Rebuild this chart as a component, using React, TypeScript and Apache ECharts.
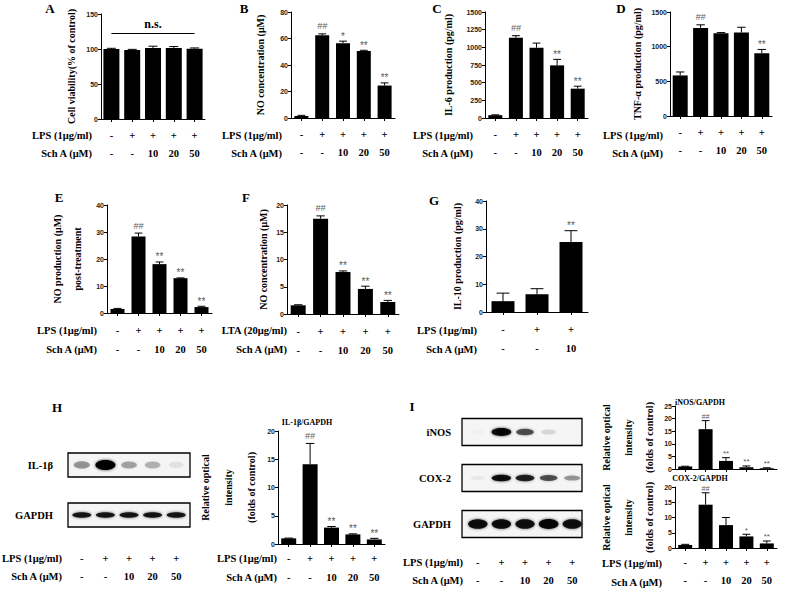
import React, { useEffect, useRef } from 'react';
import * as echarts from 'echarts';

// ---------- shared tick rows ----------
const lpsRow = ['-', '+', '+', '+', '+'];
const schRow = ['-', '-', '10', '20', '50'];
const lpsRowG = ['-', '+', '+'];
const schRowG = ['-', '-', '10'];
const rowLps = 'LPS (1μg/ml)';
const rowSch = 'Sch A (μM)';
const rowLta = 'LTA (20μg/ml)';

// ---------- A ----------
const aTitle = 'Cell viability(% of control)';
const aValues = [100, 98.5, 101.5, 101.5, 100.5];
const aErrors = [1, 1, 2.5, 2, 1];
const aMarks = ['', '', '', '', ''];
const aNsLevel = 123;
// ---------- B ----------
const bTitle = 'NO concentration (μM)';
const bValues = [1.5, 62.5, 56.5, 50.5, 24.5];
const bErrors = [0.5, 1, 1.5, 0.6, 2];
const bMarks = ['', '##', '*', '**', '**'];
// ---------- C ----------
const cTitle = 'IL-6 production (pg/ml)';
const cValues = [40, 1135, 995, 745, 415];
const cErrors = [5, 30, 65, 85, 35];
const cMarks = ['', '##', '', '**', '**'];
// ---------- D ----------
const dTitle = 'TNF-α production (pg/ml)';
const dValues = [585, 1270, 1195, 1205, 905];
const dErrors = [50, 45, 8, 75, 55];
const dMarks = ['', '##', '', '', '**'];
// ---------- E ----------
const eTitle = 'NO production (μM)\npost-treatment';
const eValues = [1.5, 28.3, 18.1, 12.9, 2.2];
const eErrors = [0.2, 1.3, 0.8, 0.1, 0.3];
const eMarks = ['', '##', '**', '**', '**'];
// ---------- F ----------
const fTitle = 'NO concentration (μM)';
const fValues = [1.6, 17.5, 7.7, 4.6, 2.2];
const fErrors = [0.1, 0.5, 0.2, 0.5, 0.3];
const fMarks = ['', '##', '**', '**', '**'];
// ---------- G ----------
const gTitle = 'IL-10 production (pg/ml)';
const gValues = [3.9, 6.4, 25.2];
const gErrors = [2.9, 2.0, 4.1];
const gMarks = ['', '', '**'];
// ---------- H ----------
const riTitle = 'Relative optical\nintensity\n(folds of control)';
const hChartTitle = 'IL-1β/GAPDH';
const hValues = [1.0, 14.1, 2.9, 1.7, 0.8];
const hErrors = [0.05, 3.7, 0.2, 0.1, 0.2];
const hMarks = ['', '##', '**', '**', '**'];
const hBlotRows = ['IL-1β', 'GAPDH'];
const hIl1b = [0.35, 1.0, 0.3, 0.25, 0.08];
const hGapdh = [0.85, 0.85, 0.85, 0.85, 0.85];
// ---------- I ----------
const iTopTitle = 'iNOS/GAPDH';
const iTopValues = [1.0, 15.8, 3.2, 0.7, 0.3];
const iTopErrors = [0.1, 3.4, 1.3, 0.5, 0.2];
const iTopMarks = ['', '##', '**', '**', '**'];
const iBotTitle = 'COX-2/GAPDH';
const iBotValues = [1.0, 14.2, 7.5, 3.8, 1.5];
const iBotErrors = [0.2, 3.9, 2.5, 0.7, 0.8];
const iBotMarks = ['', '##', '', '*', '**'];
const iBlotRows = ['iNOS', 'COX-2', 'GAPDH'];
const iInos = [0.02, 0.95, 0.6, 0.12, 0.0];
const iCox2 = [0.05, 0.9, 0.8, 0.6, 0.35];
const iGapdh = [0.9, 0.9, 0.88, 0.95, 0.88];

const serif = "'Liberation Serif','Times New Roman',serif";
const sans = "'Liberation Sans',Arial,sans-serif";
const markColor = '#5a5a5a';

type Panel = {
  values: number[]; errors: number[]; marks: string[];
  yMax: number; yInterval: number; yName: string;
  left: number; top: number; width: number; height: number;
  nameGap: number; nameLineHeight?: number; barWidth: number;
  lps?: string[]; sch?: string[]; labelMargin?: number; labelLineHeight?: number;
  markSize?: number; ns?: number;
};

function addBarPanel(opt: any, p: Panel) {
  const gi = opt.grid.length;
  const xi = opt.xAxis.length;
  const yi = opt.yAxis.length;
  opt.grid.push({ left: p.left, top: p.top, width: p.width, height: p.height });
  opt.xAxis.push({
    type: 'category', gridIndex: gi, data: p.values.map((_, i) => String(i)), boundaryGap: true,
    axisLine: { show: true, lineStyle: { color: '#000', width: 1 } },
    axisTick: { show: true, alignWithLabel: true, length: 3, lineStyle: { color: '#000' } },
    axisLabel: p.lps
      ? {
          show: true, interval: 0, margin: p.labelMargin, lineHeight: p.labelLineHeight,
          fontFamily: serif, fontWeight: 'bold', fontSize: 10.5, color: '#000',
          formatter: (_v: string, i: number) => `${p.lps![i]}\n${p.sch![i]}`,
        }
      : { show: false },
    splitLine: { show: false },
  });
  opt.yAxis.push({
    type: 'value', gridIndex: gi, min: 0, max: p.yMax, interval: p.yInterval,
    name: p.yName, nameLocation: 'middle', nameGap: p.nameGap,
    nameTextStyle: { fontFamily: serif, fontWeight: 'bold', fontSize: 10, color: '#000', lineHeight: p.nameLineHeight || 12 },
    axisLine: { show: true, lineStyle: { color: '#000', width: 1 } },
    axisTick: { show: true, length: 3, lineStyle: { color: '#000' } },
    axisLabel: { fontFamily: sans, fontWeight: 'bold', fontSize: 7, color: '#222', margin: 3, formatter: (v: number) => String(v) },
    splitLine: { show: false },
  });
  const bar: any = {
    type: 'bar', xAxisIndex: xi, yAxisIndex: yi, data: p.values, barWidth: p.barWidth,
    itemStyle: { color: '#000' }, silent: true, z: 2,
  };
  if (p.ns !== undefined) {
    bar.markLine = {
      silent: true, symbol: 'none', animation: false,
      lineStyle: { color: '#000', width: 1, type: 'solid' },
      label: { show: true, position: 'insideMiddleTop', formatter: 'n.s.', fontFamily: serif, fontWeight: 'bold', fontSize: 12, color: '#000', distance: 3 },
      data: [[{ coord: [0, p.ns] }, { coord: [p.values.length - 1, p.ns] }]],
    };
  }
  opt.series.push(bar);
  const ms = p.markSize || 10;
  opt.series.push({
    type: 'custom', xAxisIndex: xi, yAxisIndex: yi, z: 3, silent: true,
    itemStyle: { color: markColor },
    data: p.values.map((v, i) => [i, v, p.errors[i]]),
    renderItem: (params: any, api: any) => {
      const i = params.dataIndex;
      const x = api.value(0), v = api.value(1), e = api.value(2);
      const base = api.coord([x, v]);
      const top = api.coord([x, v + e]);
      const cw = p.barWidth * 0.28;
      const children: any[] = [];
      if (e > 0) {
        children.push({ type: 'line', shape: { x1: base[0], y1: base[1], x2: top[0], y2: top[1] }, style: { stroke: '#000', fill: null, lineWidth: 1 } });
        children.push({ type: 'line', shape: { x1: top[0] - cw, y1: top[1], x2: top[0] + cw, y2: top[1] }, style: { stroke: '#000', fill: null, lineWidth: 1 } });
      }
      const m = p.marks[i];
      if (m) {
        const hash = m.indexOf('#') >= 0;
        children.push({
          type: 'text', x: top[0], y: top[1] - (hash ? (ms < 10 ? 1 : 3) : 0),
          style: {
            text: m, fill: markColor, fontSize: hash ? ms * 0.9 : ms, fontFamily: sans,
            fontStyle: hash ? 'italic' : 'normal', align: 'center', verticalAlign: 'bottom',
          },
        });
      }
      return { type: 'group', children };
    },
  });
}

type Blot = {
  rows: string[]; bands: number[][]; lps: string[]; sch: string[];
  left: number; top: number; width: number; height: number;
  boxH: number; padL: number; padR: number; bandRy: number[]; labelMargin: number; yLabelMargin: number;
};

function addBlot(opt: any, b: Blot) {
  const gi = opt.grid.length;
  const xi = opt.xAxis.length;
  const yi = opt.yAxis.length;
  opt.grid.push({ left: b.left, top: b.top, width: b.width, height: b.height });
  opt.xAxis.push({
    type: 'category', gridIndex: gi, data: b.lps.map((_, i) => String(i)), boundaryGap: true,
    axisLine: { show: false }, axisTick: { show: false }, splitLine: { show: false },
    axisLabel: {
      show: true, interval: 0, margin: b.labelMargin, lineHeight: 18,
      fontFamily: serif, fontWeight: 'bold', fontSize: 10.5, color: '#000',
      formatter: (_v: string, i: number) => `${b.lps[i]}\n${b.sch[i]}`,
    },
  });
  opt.yAxis.push({
    type: 'category', gridIndex: gi, data: b.rows, inverse: true,
    axisLine: { show: false }, axisTick: { show: false }, splitLine: { show: false },
    axisLabel: { fontFamily: serif, fontWeight: 'bold', fontSize: 10.5, color: '#000', margin: b.yLabelMargin },
  });
  // frames
  opt.series.push({
    type: 'custom', xAxisIndex: xi, yAxisIndex: yi, z: 1, silent: true,
    itemStyle: { color: '#f5f5f5' },
    data: b.rows.map((_, r) => [0, r]),
    renderItem: (params: any, api: any) => {
      const cs = params.coordSys;
      const cy = api.coord([0, api.value(1)])[1];
      return {
        type: 'rect',
        shape: { x: cs.x - b.padL, y: cy - b.boxH / 2, width: cs.width + b.padL + b.padR, height: b.boxH },
        style: { fill: '#f5f5f5', stroke: '#000', lineWidth: 1.3 },
      };
    },
  });
  // bands
  const data: number[][] = [];
  b.bands.forEach((row, r) => row.forEach((v, lane) => data.push([lane, r, v])));
  opt.series.push({
    type: 'custom', xAxisIndex: xi, yAxisIndex: yi, z: 2, silent: true,
    itemStyle: { color: '#000' },
    data,
    renderItem: (params: any, api: any) => {
      const lane = api.value(0), r = api.value(1), v = api.value(2);
      if (v <= 0.01) return { type: 'group', children: [] };
      const c = api.coord([lane, r]);
      const ry = b.bandRy[r] * (0.6 + 0.4 * v);
      return {
        type: 'ellipse',
        shape: { cx: c[0], cy: c[1], rx: 9.5 * (0.75 + 0.3 * v), ry },
        style: { fill: `rgba(0,0,0,${v})`, shadowBlur: 3, shadowColor: `rgba(0,0,0,${v * 0.8})` },
      };
    },
  });
}

export default function App() {
  const ref = useRef<HTMLDivElement>(null);
  useEffect(() => {
    if (!ref.current) return;
    const chart = echarts.init(ref.current, null, { renderer: 'svg', width: 785, height: 589 });
    const opt: any = { animation: false, backgroundColor: '#fff', grid: [], xAxis: [], yAxis: [], series: [] };

    const top5 = { lps: lpsRow, sch: schRow, labelMargin: 7, labelLineHeight: 18 };
    const mid5 = { lps: lpsRow, sch: schRow, labelMargin: 8, labelLineHeight: 19 };

    addBarPanel(opt, { values: aValues, errors: aErrors, marks: aMarks, yMax: 150, yInterval: 50, yName: aTitle,
      left: 101, top: 14, width: 104, height: 105, nameGap: 24, barWidth: 16, ns: aNsLevel, ...top5 });
    addBarPanel(opt, { values: bValues, errors: bErrors, marks: bMarks, yMax: 80, yInterval: 20, yName: bTitle,
      left: 291, top: 12, width: 104, height: 106, nameGap: 25, barWidth: 14, ...top5 });
    addBarPanel(opt, { values: cValues, errors: cErrors, marks: cMarks, yMax: 1500, yInterval: 250, yName: cTitle,
      left: 485, top: 12, width: 103, height: 106, nameGap: 31, barWidth: 14, ...top5 });
    addBarPanel(opt, { values: dValues, errors: dErrors, marks: dMarks, yMax: 1500, yInterval: 500, yName: dTitle,
      left: 670, top: 12, width: 102, height: 104, nameGap: 27, barWidth: 15, ...top5 });
    addBarPanel(opt, { values: eValues, errors: eErrors, marks: eMarks, yMax: 40, yInterval: 10, yName: eTitle,
      left: 107, top: 205, width: 105, height: 108, nameGap: 20, nameLineHeight: 20, barWidth: 14, ...mid5 });
    addBarPanel(opt, { values: fValues, errors: fErrors, marks: fMarks, yMax: 20, yInterval: 5, yName: fTitle,
      left: 287, top: 205, width: 112, height: 109, nameGap: 18, barWidth: 15, ...mid5 });
    addBarPanel(opt, { values: gValues, errors: gErrors, marks: gMarks, yMax: 40, yInterval: 10, yName: gTitle,
      left: 486, top: 201, width: 102, height: 111, nameGap: 23, barWidth: 23,
      lps: lpsRowG, sch: schRowG, labelMargin: 8, labelLineHeight: 19 });
    addBarPanel(opt, { values: hValues, errors: hErrors, marks: hMarks, yMax: 20, yInterval: 5, yName: riTitle,
      left: 278, top: 431, width: 107, height: 113, nameGap: 13, nameLineHeight: 23, barWidth: 15,
      lps: lpsRow, sch: schRow, labelMargin: 5, labelLineHeight: 19 });
    addBarPanel(opt, { values: iTopValues, errors: iTopErrors, marks: iTopMarks, yMax: 25, yInterval: 5, yName: riTitle,
      left: 675, top: 406, width: 102, height: 63, nameGap: 6, nameLineHeight: 21.5, barWidth: 14, markSize: 8 });
    addBarPanel(opt, { values: iBotValues, errors: iBotErrors, marks: iBotMarks, yMax: 20, yInterval: 5, yName: riTitle,
      left: 675, top: 487, width: 102, height: 62, nameGap: 6, nameLineHeight: 21.5, barWidth: 14, markSize: 8,
      lps: lpsRow, sch: schRow, labelMargin: 5, labelLineHeight: 18 });

    addBlot(opt, { rows: hBlotRows, bands: [hIl1b, hGapdh], lps: lpsRow, sch: schRow,
      left: 70, top: 440, width: 118, height: 100, boxH: 24, padL: 2, padR: 2, bandRy: [5, 3], labelMargin: 9, yLabelMargin: 17 });
    addBlot(opt, { rows: iBlotRows, bands: [iInos, iCox2, iGapdh], lps: lpsRow, sch: schRow,
      left: 466, top: 409, width: 118, height: 138, boxH: 27, padL: 4, padR: -2, bandRy: [4, 3.5, 5], labelMargin: 6, yLabelMargin: 15 });

    const letter = (t: string, x: number, y: number) => ({
      type: 'text', x, y, style: { text: t, fontFamily: serif, fontWeight: 'bold', fontSize: 13, fill: '#000', align: 'center', verticalAlign: 'middle' },
    });
    const rowText = (t: string, x: number, y: number) => ({
      type: 'text', x, y, style: { text: t, fontFamily: serif, fontWeight: 'bold', fontSize: 10.5, fill: '#000', align: 'right', verticalAlign: 'middle' },
    });
    const smallTitle = (t: string, x: number, y: number) => ({
      type: 'text', x, y, style: { text: t, fontFamily: serif, fontWeight: 'bold', fontSize: 8, fill: '#000', align: 'center', verticalAlign: 'middle' },
    });
    opt.graphic = [
      letter('A', 50, 8), letter('B', 244, 8), letter('C', 437, 8), letter('D', 621, 8),
      letter('E', 59, 197), letter('F', 246, 197), letter('G', 434, 200),
      letter('H', 57, 407), letter('I', 412, 406),
      rowText(rowLps, 92, 135), rowText(rowSch, 92, 153),
      rowText(rowLps, 282, 135), rowText(rowSch, 282, 153),
      rowText(rowLps, 473, 135), rowText(rowSch, 473, 153),
      rowText(rowLps, 663, 135), rowText(rowSch, 663, 153),
      rowText(rowLps, 97, 330), rowText(rowSch, 97, 349),
      rowText(rowLta, 287, 330), rowText(rowSch, 287, 349),
      rowText(rowLps, 477, 330), rowText(rowSch, 477, 349),
      rowText(rowLps, 62, 558), rowText(rowSch, 62, 576),
      rowText(rowLps, 277, 558), rowText(rowSch, 277, 577),
      rowText(rowLps, 463, 562), rowText(rowSch, 463, 580),
      rowText(rowLps, 662, 563), rowText(rowSch, 662, 582),
      smallTitle(hChartTitle, 307, 422), smallTitle(iTopTitle, 700, 402), smallTitle(iBotTitle, 700, 478),
    ];

    chart.setOption(opt);
    return () => chart.dispose();
  }, []);
  return <div ref={ref} style={{ position: 'fixed', left: 0, top: 0, width: 785, height: 589, background: '#fff' }} />;
}
